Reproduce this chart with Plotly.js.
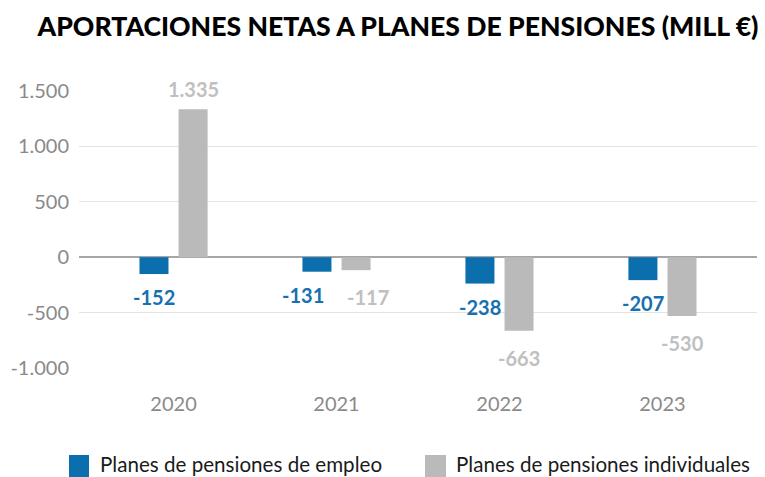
<!DOCTYPE html>
<html>
<head>
<meta charset="utf-8">
<script src="https://cdn.plot.ly/plotly-3.0.1.min.js"></script>
<style>html,body{margin:0;padding:0;background:#fff;}#chart{width:765px;height:477px;}</style>
</head>
<body>
<div id="chart"></div>
<script>
const years = ['2020', '2021', '2022', '2023'];
const seriesNames = ['Planes de pensiones de empleo', 'Planes de pensiones individuales'];
const empleo = [-152, -131, -238, -207];
const individuales = [1335, -117, -663, -530];
const tickVals = [-1000, -500, 0, 500, 1000, 1500];
const tickText = ['-1.000', '-500', '0', '500', '1.000', '1.500'];
const chartTitle = 'APORTACIONES NETAS A PLANES DE PENSIONES (MILL €)';

const BLUE = '#0b6fae';
const GRAY = '#bababa';
const FONT = 'Lato, "Open Sans", sans-serif';

const W = 765, H = 477;
const M = {l: 79, r: 8, t: 91, b: 109};
const plotW = W - M.l - M.r, plotH = H - M.t - M.b;
const pxX = px => (px - M.l) / plotW;
const pxY = py => (H - M.b - py) / plotH;

function fmt(v) {
  const s = Math.abs(v).toString().replace(/\B(?=(\d{3})+(?!\d))/g, '.');
  return (v < 0 ? '-' : '') + s;
}

const barW = 0.178;
const offs = [-0.209, 0.031];
const idx = years.map((_, i) => i);

const traces = [empleo, individuales].map((vals, k) => ({
  type: 'bar',
  x: idx,
  y: vals,
  name: seriesNames[k],
  width: barW,
  offset: offs[k],
  marker: {color: k === 0 ? BLUE : GRAY},
  hoverinfo: 'x+y',
  showlegend: false
}));

const nudge = [[0, -14, 0, 0], [0, 12, 0, 0]];
const labelColors = ['#1770b0', '#c0c0c0'];
const annotations = [];
[empleo, individuales].forEach((vals, k) => {
  vals.forEach((v, i) => {
    annotations.push({
      x: i + offs[k] + barW / 2,
      y: v,
      xref: 'x', yref: 'y',
      text: fmt(v),
      showarrow: false,
      xanchor: 'center', yanchor: 'middle',
      xshift: nudge[k][i],
      yshift: v >= 0 ? 20 : (k === 0 ? -23 : -27),
      font: {family: FONT, size: 20, color: labelColors[k], weight: 'bold'}
    });
  });
});

// custom legend
const legItems = [{sq: [69, 89], tx: 99, color: BLUE}, {sq: [425, 446], tx: 455, color: GRAY}];
const shapes = [];
legItems.forEach((it, k) => {
  shapes.push({
    type: 'rect', xref: 'paper', yref: 'paper',
    x0: pxX(it.sq[0]), x1: pxX(it.sq[1]),
    y0: pxY(477), y1: pxY(455),
    fillcolor: it.color, line: {width: 0}
  });
  annotations.push({
    xref: 'paper', yref: 'paper',
    x: pxX(it.tx), y: pxY(464),
    xanchor: 'left', yanchor: 'middle',
    text: seriesNames[k], showarrow: false, borderpad: 0,
    font: {family: FONT, size: 20.6, color: '#1a1a1a'}
  });
});

const layout = {
  width: W, height: H,
  margin: M,
  paper_bgcolor: '#fff', plot_bgcolor: '#fff',
  title: {
    text: chartTitle,
    x: 398 / W, xanchor: 'center',
    y: 1 - 27 / H, yanchor: 'middle', yref: 'container',
    font: {family: FONT, size: 26.6, color: '#000', weight: 900}
  },
  xaxis: {
    type: 'linear',
    range: [-0.58, 3.58],
    tickvals: idx, ticktext: years,
    showgrid: false, zeroline: false, showline: false,
    ticks: 'outside', ticklen: 18, tickcolor: 'rgba(0,0,0,0)',
    tickfont: {family: FONT, size: 20, color: '#8a8a8a'}
  },
  yaxis: {
    range: [-1000, 1500],
    tickvals: tickVals, ticktext: tickText,
    showgrid: true, gridcolor: '#e3e3e3', gridwidth: 1,
    zeroline: true, zerolinecolor: '#a6a6a6', zerolinewidth: 2,
    showline: false,
    ticks: 'outside', ticklen: 5, tickcolor: 'rgba(0,0,0,0)',
    tickfont: {family: FONT, size: 20, color: '#8a8a8a'}
  },
  barmode: 'group',
  showlegend: false,
  shapes: shapes,
  annotations: annotations
};

Plotly.newPlot('chart', traces, layout, {displayModeBar: false, staticPlot: true});
</script>
</body>
</html>
